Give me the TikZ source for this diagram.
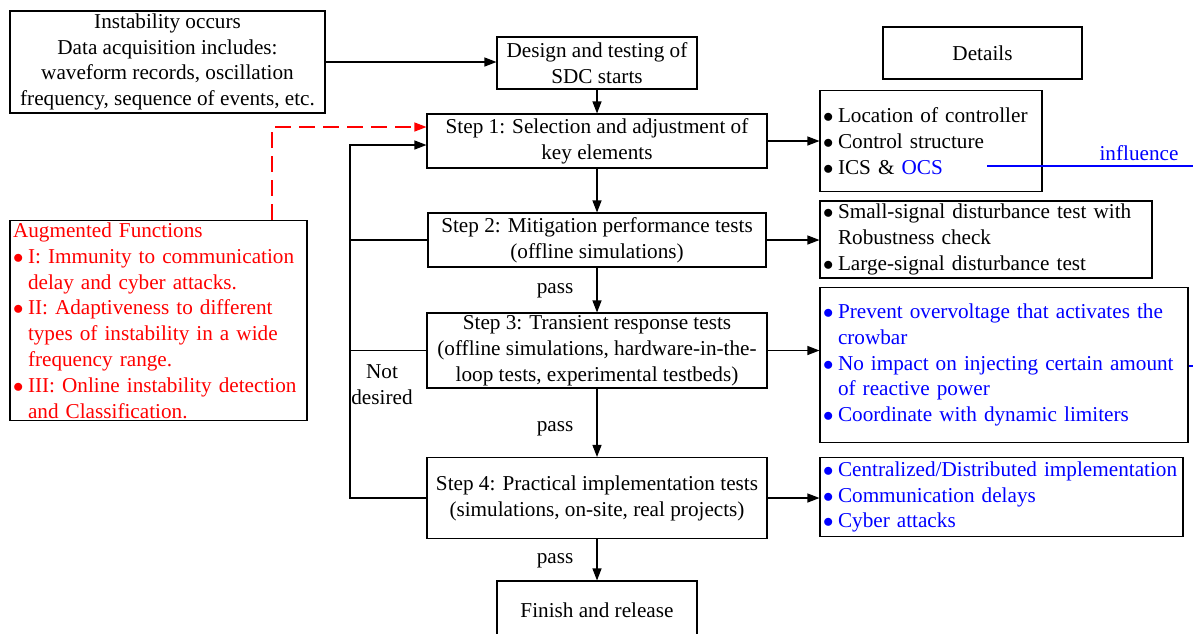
\documentclass[tikz,border=0pt]{standalone}
\usepackage{fontspec}
\setmainfont{Liberation Serif}
\usetikzlibrary{arrows.meta}
\usetikzlibrary{positioning}

\definecolor{augred}{RGB}{255,0,0}
\definecolor{detblue}{RGB}{0,0,255}
\newcommand{\bul}{\makebox[15pt][l]{$\bullet$}}
\newcommand{\hang}{\hspace*{15pt}}

\begin{document}
\begin{tikzpicture}[x=1pt,y=-1pt,
  every node/.style={font=\fontsize{21.2}{25.8}\selectfont},
  box/.style={draw,line width=1.1pt,align=center,inner sep=0pt},
  listbox/.style={draw,line width=1.1pt,align=left,inner xsep=3pt,inner ysep=0pt},
  arr/.style={line width=1.1pt,-{Triangle[length=12pt,width=9pt]}},
  lne/.style={line width=1.1pt}]
\useasboundingbox (0,0) rectangle (1193,633);

\node[box,minimum width=315pt,minimum height=102pt] (inst) at (167.5,62) {Instability occurs\\Data acquisition includes:\\waveform records, oscillation\\frequency, sequence of events, etc.};
\node[box,minimum width=200pt,minimum height=52pt] (design) at (597,63) {Design and testing of\\SDC starts};
\node[box,minimum width=199pt,minimum height=52pt] (details) at (982.5,53) {Details};

\node[box,minimum width=340pt,minimum height=54pt] (step1) at (597,141) {Step 1: Selection and adjustment of\\key elements};
\node[box,minimum width=338pt,minimum height=54pt] (step2) at (597,240) {Step 2: Mitigation performance tests\\(offline simulations)};
\node[box,minimum width=340pt,minimum height=75pt] (step3) at (597,350.5) {Step 3: Transient response tests\\(offline simulations, hardware-in-the-\\loop tests, experimental testbeds)};
\node[box,minimum width=340pt,minimum height=81pt] (step4) at (597,498) {Step 4: Practical implementation tests\\(simulations, on-site, real projects)};
\node[box,minimum width=200pt,minimum height=59pt] (finish) at (597,610.5) {Finish and release};

\node[listbox,text width=216pt,minimum height=101pt] (det1) at (931,141) {\bul Location of controller\\\bul Control structure\\\bul ICS \& {\color{detblue}OCS}};
\node[listbox,text width=326pt,minimum height=77pt] (det2) at (986,239.5) {\bul Small-signal disturbance test with\\\hang Robustness check\\\bul Large-signal disturbance test};
\node[listbox,text width=362pt,minimum height=155pt,text=detblue] (det3) at (1004,365) {\bul Prevent overvoltage that activates the\\\hang crowbar\\\bul No impact on injecting certain amount\\\hang of reactive power\\\bul Coordinate with dynamic limiters};
\node[listbox,text width=357pt,minimum height=79pt,text=detblue] (det4) at (1001.5,497) {\mbox{\bul Centralized/Distributed implementation}\\\bul Communication delays\\\bul Cyber attacks};

\node[listbox,text width=291pt,minimum height=200pt,text=augred] (aug) at (158.5,320.5) {Augmented Functions\\\bul I: Immunity to communication\\\hang delay and cyber attacks.\\\bul II: Adaptiveness to different\\\hang types of instability in a wide\\\hang frequency range.\\\bul III: Online instability detection\\\hang and Classification.};

\draw[arr] (inst.east) -- (design.west |- inst.east);
\draw[arr] (design) -- (step1);
\draw[arr] (step1) -- (step2);
\draw[arr] (step2) -- (step3);
\draw[arr] (step3) -- (step4);
\draw[arr] (step4) -- (finish);
\node (pass1) at (555,291) {pass};
\node (pass2) at (555,429) {pass};
\node (pass3) at (555,561) {pass};

\draw[arr] (step1.east) -- (det1.west |- step1.east);
\draw[arr] (step2.east) -- (det2.west |- step2.east);
\draw[arr] (step3.east) -- (det3.west |- step3.east);
\draw[arr] (step4.east) -- (det4.west |- step4.east);

\coordinate (loop) at (350,145);
\draw[arr] (step4.west) -- (loop |- step4.west) -- (loop) -- (step1.west |- loop);
\draw[lne] (step2.west) -- (loop |- step2.west);
\draw[lne] (step3.west) -- (loop |- step3.west);
\node[align=center] (notdes) at (382,385) {Not\\desired};

\draw[arr,augred,dash pattern=on 16pt off 8pt] (aug.north -| 272,0) -- (272,127) -- (step1.west |- 0,127);

\coordinate (infl) at (987,166);
\draw[detblue,lne] (infl) -- (1200,166);
\node[text=detblue] (infltxt) at (1139,153) {influence};
\draw[detblue,lne] (1200,366) -- (det3.east |- 0,366);
\end{tikzpicture}
\end{document}
